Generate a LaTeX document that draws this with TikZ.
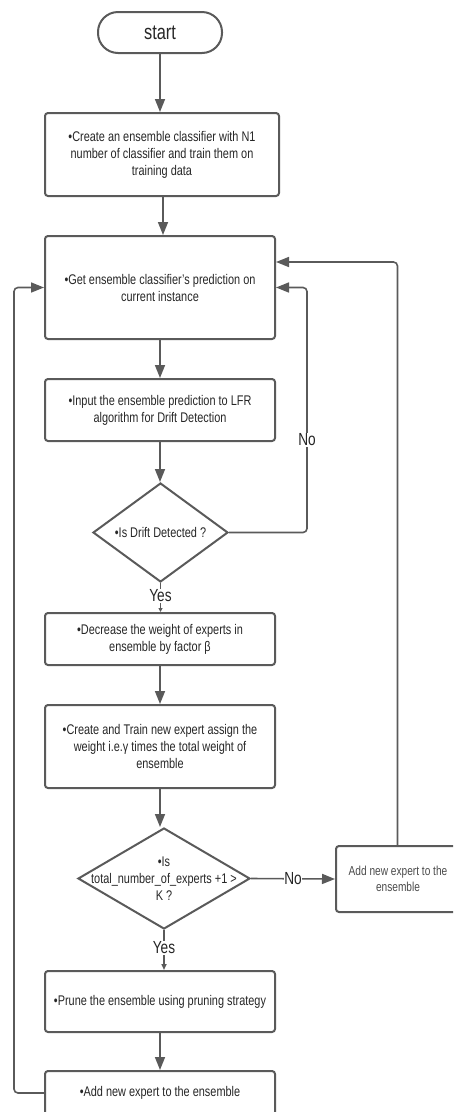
\documentclass[tikz,border=0pt]{standalone}
\usepackage{fontspec}
\setmainfont{Liberation Sans}[FakeStretch=0.78]
\usetikzlibrary{shapes.geometric,arrows.meta}
\definecolor{ln}{HTML}{5A5A5A}
\definecolor{tx}{HTML}{262626}
\definecolor{tx2}{HTML}{4A4A4A}
\begin{document}
\begin{tikzpicture}[x=1pt,y=-1pt,
  box/.style={draw=ln, line width=2pt, rounded corners=3pt, text=tx, align=center,
    font=\fontsize{14}{17}\selectfont, inner sep=0pt},
  dia/.style={diamond, draw=ln, line width=2pt, inner sep=0pt},
  dtext/.style={text=tx, align=center, font=\fontsize{14}{17}\selectfont, inner sep=0pt},
  conn/.style={draw=ln, line width=1.6pt},
  arr/.style={conn, -{Triangle[length=13pt,width=10pt]}},
  lbl/.style={text=tx, font=\fontsize{17.5}{20}\selectfont, fill=white, inner sep=1pt}
]
\useasboundingbox (0,0) rectangle (453,1112);
\clip (0,0) rectangle (453,1112);

\node[draw=ln, line width=2pt, rounded corners=20pt, minimum width=124pt, minimum height=41pt,
  text=tx, font=\fontsize{21}{24}\selectfont, inner sep=0pt] (start) at (160,32.5) {start};

\node[box, minimum width=234pt, minimum height=83pt] (b1) at (162,154.5)
  {•Create an ensemble classifier with N1\\number of classifier and train them on\\training data};
\node[box, minimum width=230pt, minimum height=103pt] (b2) at (160,287.5)
  {•Get ensemble classifier's prediction on\\current instance};
\node[box, minimum width=230pt, minimum height=62pt] (b3) at (160,410)
  {•Input the ensemble prediction to LFR\\algorithm for Drift Detection};
\node[dia, minimum width=135pt, minimum height=99pt] (d1) at (160.5,532.5) {};
\node[dtext] (d1t) at (d1.center) {•Is Drift Detected ?};
\node[box, minimum width=230pt, minimum height=52pt] (b4) at (160,639)
  {•Decrease the weight of experts in\\ensemble by factor β};
\node[box, minimum width=230pt, minimum height=83pt] (b5) at (160,746.5)
  {•Create and Train new expert assign the\\weight i.e.γ times the total weight of\\ensemble};
\node[dia, minimum width=172pt, minimum height=101pt] (d2) at (164,878.5) {};
\node[dtext] (d2t) at (d2.center) {•Is\\total\_number\_of\_experts +1 >\\K ?};
\node[box, minimum width=124pt, minimum height=66pt, text=tx2, font=\fontsize{13}{16}\selectfont] (b6) at (398,879) {};
\node[text=tx2, font=\fontsize{13}{16}\selectfont, align=center, inner sep=0pt] (b6t) at (398,879)
  {Add new expert to the\\ensemble};
\node[box, minimum width=230pt, minimum height=61pt] (b7) at (160,1001.5)
  {•Prune the ensemble using pruning strategy};
\node[box, minimum width=230pt, minimum height=44pt] (b8) at (160,1093)
  {•Add new expert to the ensemble};

% straight connectors
\draw[arr] (start.south) -- (start.south |- b1.north);
\draw[arr] ([xshift=1pt]b1.south) -- ([xshift=1pt]b1.south |- b2.north);
\draw[arr] (b2.south) -- (b2.south |- b3.north);
\draw[arr] (b3.south) -- (b3.south |- d1.north);
\draw[arr] (b4.south) -- (b4.south |- b5.north);
\draw[arr] (b5.south) -- (b5.south |- d2.north);
\draw[arr] (b7.south) -- (b7.south |- b8.north);

% Yes branches
\draw[conn, -{Triangle[length=4pt,width=4pt]}] (d1.south) -- (d1.south |- b4.north)
  node[lbl, pos=0.45] (yes1) {Yes};
\draw[conn, -{Triangle[length=6pt,width=5pt]}] (d2.south) -- (d2.south |- b7.north)
  node[lbl, pos=0.45] (yes2) {Yes};

% No branches
\draw[arr, rounded corners=4pt] (d1.east) -- (307,532.5) -- (307,287.5) -- (b2.east);
\node[lbl] (no1) at (307,440) {No};
\draw[arr] (d2.east) -- (b6.west) node[lbl, pos=0.5, inner sep=0.5pt] (no2) {No};

% loop backs
\draw[arr, rounded corners=4pt] (b6.north -| 397.5,0) -- (397.5,262) -- ([yshift=25.5pt]b2.east);
\draw[arr, rounded corners=4pt] (b8.west) -- (14,1093) -- (14,287.5) -- (b2.west);
\end{tikzpicture}
\end{document}
